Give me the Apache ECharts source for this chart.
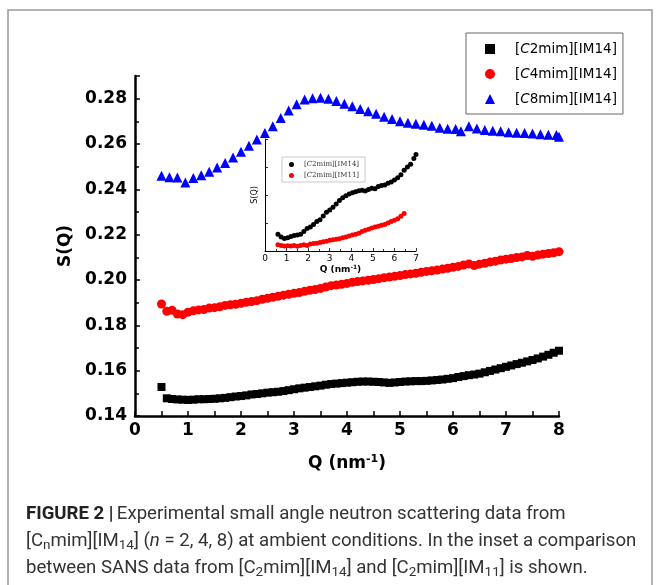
<!DOCTYPE html>
<html><head><meta charset="utf-8">
<script src="https://cdn.jsdelivr.net/npm/echarts@6/dist/echarts.min.js"></script>
<style>html,body{margin:0;padding:0;background:#fff}#c{width:660px;height:585px}</style>
</head><body><div id="c"></div>
<script>
// ---- main chart data ----
const seriesNames = ['[C2mim][IM14]', '[C4mim][IM14]', '[C8mim][IM14]'];
const xTicks = [0,1,2,3,4,5,6,7,8];
const yTicks = [0.14,0.16,0.18,0.20,0.22,0.24,0.26,0.28];

const qC2 = [0.5,0.6,0.7,0.8,0.9,1.0,1.1,1.2,1.3,1.4,1.5,1.6,1.7,1.8,1.9,2.0,2.1,2.2,2.3,2.4,2.5,2.6,2.7,2.8,2.9,3.0,3.1,3.2,3.3,3.4,3.5,3.6,3.7,3.8,3.9,4.0,4.1,4.2,4.3,4.4,4.5,4.6,4.7,4.8,4.9,5.0,5.1,5.2,5.3,5.4,5.5,5.6,5.7,5.8,5.9,6.0,6.1,6.2,6.3,6.4,6.5,6.6,6.7,6.8,6.9,7.0,7.1,7.2,7.3,7.4,7.5,7.6,7.7,7.8,7.9,8.0];
const sC2 = [0.1528,0.1478,0.1475,0.1473,0.1472,0.1471,0.1472,0.1474,0.1474,0.1475,0.1476,0.1478,0.1480,0.1483,0.1486,0.1488,0.1491,0.1495,0.1497,0.1500,0.1503,0.1505,0.1507,0.1510,0.1514,0.1518,0.1522,0.1525,0.1528,0.1531,0.1534,0.1538,0.1541,0.1543,0.1545,0.1547,0.1549,0.1551,0.1552,0.1552,0.1551,0.1550,0.1548,0.1546,0.1548,0.1550,0.1552,0.1553,0.1554,0.1554,0.1555,0.1557,0.1559,0.1561,0.1564,0.1567,0.1572,0.1576,0.1580,0.1583,0.1587,0.1593,0.1599,0.1605,0.1611,0.1617,0.1623,0.1629,0.1635,0.1641,0.1647,0.1654,0.1662,0.1670,0.1679,0.1688];

const qC4 = [0.5,0.6,0.7,0.8,0.9,1.0,1.1,1.2,1.3,1.4,1.5,1.6,1.7,1.8,1.9,2.0,2.1,2.2,2.3,2.4,2.5,2.6,2.7,2.8,2.9,3.0,3.1,3.2,3.3,3.4,3.5,3.6,3.7,3.8,3.9,4.0,4.1,4.2,4.3,4.4,4.5,4.6,4.7,4.8,4.9,5.0,5.1,5.2,5.3,5.4,5.5,5.6,5.7,5.8,5.9,6.0,6.1,6.2,6.3,6.4,6.5,6.6,6.7,6.8,6.9,7.0,7.1,7.2,7.3,7.4,7.5,7.6,7.7,7.8,7.9,8.0];
const sC4 = [0.1894,0.1862,0.1866,0.1850,0.1847,0.1858,0.1864,0.1868,0.1870,0.1876,0.1878,0.1882,0.1888,0.1891,0.1893,0.1897,0.1902,0.1905,0.1909,0.1915,0.1919,0.1924,0.1928,0.1933,0.1937,0.1941,0.1945,0.1950,0.1955,0.1958,0.1963,0.1969,0.1975,0.1978,0.1981,0.1985,0.1990,0.1993,0.1996,0.1999,0.2002,0.2006,0.2010,0.2013,0.2016,0.2020,0.2024,0.2027,0.2030,0.2034,0.2038,0.2041,0.2044,0.2048,0.2052,0.2056,0.2060,0.2066,0.2071,0.2064,0.2070,0.2074,0.2079,0.2083,0.2088,0.2092,0.2095,0.2099,0.2102,0.2108,0.2105,0.2110,0.2114,0.2117,0.2120,0.2125];

const qC8 = [0.50,0.65,0.80,0.95,1.10,1.25,1.40,1.55,1.70,1.85,2.00,2.15,2.30,2.45,2.60,2.75,2.90,3.05,3.20,3.35,3.50,3.65,3.80,3.95,4.10,4.25,4.40,4.55,4.70,4.85,5.00,5.15,5.30,5.45,5.60,5.75,5.90,6.05,6.15,6.30,6.45,6.60,6.75,6.90,7.05,7.20,7.35,7.50,7.65,7.80,7.95,8.00];
const sC8 = [0.2460,0.2453,0.2452,0.2430,0.2450,0.2462,0.2478,0.2496,0.2516,0.2540,0.2566,0.2592,0.2620,0.2648,0.2678,0.2715,0.2748,0.2775,0.2796,0.2802,0.2804,0.2800,0.2790,0.2778,0.2766,0.2754,0.2745,0.2733,0.2720,0.2710,0.2700,0.2694,0.2689,0.2685,0.2680,0.2672,0.2667,0.2666,0.2656,0.2678,0.2668,0.2662,0.2659,0.2656,0.2652,0.2650,0.2648,0.2646,0.2643,0.2641,0.2640,0.2632];

// ---- inset data (arbitrary units) ----
const insetNames = ['[C2mim][IM14] ', '[C2mim][IM11] '];
const insetXTicks = [0,1,2,3,4,5,6,7];
const qIn14 = [0.60,0.75,0.90,1.05,1.20,1.35,1.50,1.65,1.80,1.95,2.10,2.25,2.40,2.55,2.70,2.85,3.00,3.15,3.30,3.45,3.60,3.75,3.90,4.05,4.20,4.35,4.50,4.65,4.80,4.95,5.10,5.25,5.40,5.55,5.70,5.85,6.00,6.15,6.30,6.45,6.60,6.75,6.90,7.00];
const sIn14 = [0.60,0.50,0.45,0.47,0.52,0.55,0.57,0.60,0.70,0.80,0.86,0.95,1.05,1.12,1.25,1.38,1.46,1.56,1.68,1.80,1.90,1.97,2.04,2.08,2.12,2.15,2.17,2.14,2.20,2.24,2.22,2.30,2.34,2.36,2.42,2.46,2.54,2.62,2.72,2.88,3.00,3.10,3.30,3.45];
const qIn11 = [0.60,0.75,0.90,1.05,1.20,1.35,1.50,1.65,1.80,1.95,2.10,2.25,2.40,2.55,2.70,2.85,3.00,3.15,3.30,3.45,3.60,3.75,3.90,4.05,4.20,4.35,4.50,4.65,4.80,4.95,5.10,5.25,5.40,5.55,5.70,5.85,6.00,6.15,6.30,6.45];
const sIn11 = [0.22,0.20,0.18,0.19,0.18,0.20,0.17,0.20,0.22,0.20,0.25,0.27,0.28,0.30,0.33,0.35,0.38,0.40,0.42,0.44,0.47,0.50,0.54,0.57,0.60,0.63,0.70,0.74,0.78,0.82,0.86,0.88,0.92,0.95,1.00,1.05,1.10,1.15,1.24,1.34];

const zip = (a, b) => a.map((v, i) => [v, b[i]]);
const legendRich = {
  a: {fontFamily: 'DejaVu Sans', fontSize: 13.5, color: '#000'},
  b: {fontFamily: 'DejaVu Sans', fontSize: 13.5, fontStyle: 'italic', color: '#000'}
};
const legendRichSmall = {
  a: {fontFamily: 'DejaVu Serif', fontSize: 7, color: '#333'},
  b: {fontFamily: 'DejaVu Serif', fontSize: 7, fontStyle: 'italic', color: '#333'}
};
const fmtName = n => { const t = n.trim(); return '{a|[}{b|C}{a|' + t.slice(2) + '}'; };

const chart = echarts.init(document.getElementById('c'), null, {renderer: 'canvas'});
const axisFont = {fontFamily: 'DejaVu Sans', fontWeight: 'bold', fontSize: 17, color: '#000'};
const capFont = 18.6, capSub = 13.5;

chart.setOption({
  animation: false,
  backgroundColor: '#fff',
  grid: [
    {left: 135, right: 101, top: 76, bottom: 169},
    {left: 265, right: 244, top: 139, bottom: 334}
  ],
  legend: [
    {
      data: seriesNames, orient: 'vertical', left: 466, top: 33,
      padding: [8, 6, 7, 19], itemWidth: 10, itemHeight: 10, itemGap: 9,
      borderColor: '#666', borderWidth: 1, backgroundColor: '#fff',
      formatter: fmtName,
      textStyle: {padding: [0, 0, 0, 15], lineHeight: 16, rich: legendRich}
    },
    {
      data: insetNames, orient: 'vertical', left: 282, top: 157,
      padding: [3, 6, 2, 7], itemWidth: 5, itemHeight: 5, itemGap: 2,
      borderColor: '#bbb', borderWidth: 0.8, backgroundColor: '#fff',
      formatter: fmtName,
      textStyle: {padding: [0, 0, 0, 5], lineHeight: 9, rich: legendRichSmall}
    }
  ],
  xAxis: [
    {
      gridIndex: 0, type: 'value', min: xTicks[0], max: xTicks[xTicks.length - 1], interval: 1,
      axisLine: {lineStyle: {color: '#000', width: 2.5}},
      axisTick: {inside: true, length: 5, lineStyle: {color: '#000', width: 1.5}},
      minorTick: {show: true, splitNumber: 2, length: 5, lineStyle: {color: '#000', width: 1.5}},
      splitLine: {show: false},
      axisLabel: Object.assign({margin: 6}, axisFont),
      name: '{a|Q (nm}{s|-1}{a|)}', nameLocation: 'middle', nameGap: 38,
      nameTextStyle: {rich: {
        a: {fontFamily: 'DejaVu Sans', fontWeight: 'bold', fontSize: 17, color: '#000'},
        s: {fontFamily: 'DejaVu Sans', fontWeight: 'bold', fontSize: 11, color: '#000', padding: [0, 0, 9, 0]}
      }}
    },
    {
      gridIndex: 1, type: 'value', min: insetXTicks[0], max: insetXTicks[insetXTicks.length - 1], interval: 1,
      axisLine: {lineStyle: {color: '#000', width: 1}},
      axisTick: {inside: true, length: 3, lineStyle: {color: '#000', width: 0.8}},
      minorTick: {show: true, splitNumber: 2, length: 2, lineStyle: {color: '#000', width: 0.8}},
      splitLine: {show: false},
      axisLabel: {margin: 3, fontFamily: 'DejaVu Sans', fontSize: 9, color: '#000'},
      name: '{a|Q (nm}{s|-1}{a|)}', nameLocation: 'middle', nameGap: 13,
      nameTextStyle: {rich: {
        a: {fontFamily: 'DejaVu Sans', fontWeight: 'bold', fontSize: 9, color: '#000'},
        s: {fontFamily: 'DejaVu Sans', fontWeight: 'bold', fontSize: 6, color: '#000', padding: [0, 0, 5, 0]}
      }}
    }
  ],
  yAxis: [
    {
      gridIndex: 0, type: 'value', min: yTicks[0], max: 0.29, interval: 0.02,
      axisLine: {show: true, lineStyle: {color: '#000', width: 2.5}},
      axisTick: {inside: true, length: 5, lineStyle: {color: '#000', width: 1.5}},
      minorTick: {show: true, splitNumber: 2, length: 4, lineStyle: {color: '#000', width: 1.5}},
      splitLine: {show: false},
      axisLabel: Object.assign({margin: 8, formatter: v => (Math.abs(v - 0.29) < 1e-6 ? '' : v.toFixed(2))}, axisFont),
      name: 'S(Q)', nameLocation: 'middle', nameGap: 58, nameRotate: 90,
      nameTextStyle: {fontFamily: 'DejaVu Sans', fontWeight: 'bold', fontSize: 17, color: '#000'}
    },
    {
      gridIndex: 1, type: 'value', min: 0, max: 4, interval: 1,
      axisLine: {show: true, lineStyle: {color: '#000', width: 1}},
      axisTick: {inside: true, length: 3, lineStyle: {color: '#000', width: 0.8}},
      splitLine: {show: false},
      axisLabel: {show: false},
      name: 'S(Q)', nameLocation: 'middle', nameGap: 6, nameRotate: 90,
      nameTextStyle: {fontFamily: 'DejaVu Sans', fontSize: 8, color: '#000'}
    }
  ],
  series: [
    {name: seriesNames[0], type: 'scatter', xAxisIndex: 0, yAxisIndex: 0, symbol: 'rect', symbolSize: 8,
     itemStyle: {color: '#000', opacity: 1}, data: zip(qC2, sC2)},
    {name: seriesNames[1], type: 'scatter', xAxisIndex: 0, yAxisIndex: 0, symbol: 'circle', symbolSize: 9,
     itemStyle: {color: '#ff0000', opacity: 1}, data: zip(qC4, sC4)},
    {name: seriesNames[2], type: 'scatter', xAxisIndex: 0, yAxisIndex: 0, symbol: 'triangle', symbolSize: 10,
     itemStyle: {color: '#0000ff', opacity: 1}, data: zip(qC8, sC8)},
    {name: insetNames[0], type: 'scatter', xAxisIndex: 1, yAxisIndex: 1, symbol: 'circle', symbolSize: 5,
     itemStyle: {color: '#000', opacity: 1}, data: zip(qIn14, sIn14)},
    {name: insetNames[1], type: 'scatter', xAxisIndex: 1, yAxisIndex: 1, symbol: 'circle', symbolSize: 5,
     itemStyle: {color: '#ff0000', opacity: 1}, data: zip(qIn11, sIn11)}
  ],
  graphic: [
    {type: 'rect', shape: {x: 8, y: 10, width: 644, height: 600}, style: {fill: null, stroke: '#999', lineWidth: 1.5}, silent: true},
    {type: 'text', left: 26, top: 505, style: {
      text: '{b|FIGURE 2 |} {r|Experimental small angle neutron scattering data from}',
      rich: {
        b: {fontFamily: 'Roboto', fontWeight: 'bold', fontSize: capFont, fill: '#222'},
        r: {fontFamily: 'Roboto', fontSize: capFont, fill: '#333'}
      }}},
    {type: 'text', left: 26, top: 532, style: {
      text: '{r|[C}{s|n}{r|mim][IM}{s|14}{r|] (}{i|n}{r| = 2, 4, 8) at ambient conditions. In the inset a comparison}',
      rich: {
        r: {fontFamily: 'Roboto', fontSize: capFont, fill: '#333'},
        i: {fontFamily: 'Roboto', fontStyle: 'italic', fontSize: capFont, fill: '#333'},
        s: {fontFamily: 'Roboto', fontSize: capSub, fill: '#333', padding: [9, 0, 0, 0]}
      }}},
    {type: 'text', left: 26, top: 559, style: {
      text: '{r|between SANS data from [C}{s|2}{r|mim][IM}{s|14}{r|] and [C}{s|2}{r|mim][IM}{s|11}{r|] is shown.}',
      rich: {
        r: {fontFamily: 'Roboto', fontSize: capFont, fill: '#333'},
        s: {fontFamily: 'Roboto', fontSize: capSub, fill: '#333', padding: [9, 0, 0, 0]}
      }}}
  ]
});
</script></body></html>
